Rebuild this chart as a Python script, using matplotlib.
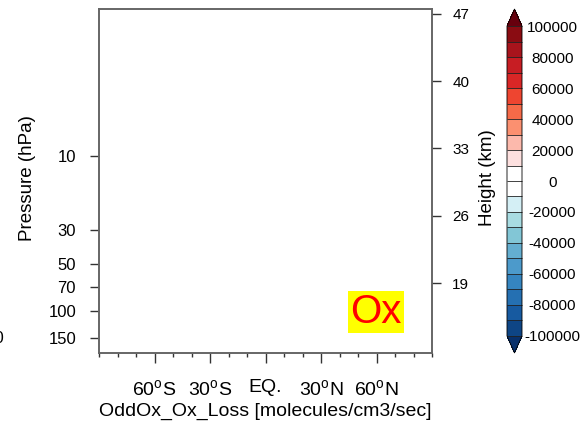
import numpy as np
import matplotlib
matplotlib.use('Agg')
import matplotlib.pyplot as plt
from matplotlib.colors import ListedColormap, BoundaryNorm
from matplotlib.cm import ScalarMappable

plt.rcParams['font.family'] = ['Liberation Sans', 'DejaVu Sans']

# axes values
lat_ticks = [-60, -30, 0, 30, 60]
lat_labels = ['60$^\\mathregular{o}$S', '30$^\\mathregular{o}$S', 'EQ.',
              '30$^\\mathregular{o}$N', '60$^\\mathregular{o}$N']
p_ticks = [10, 30, 50, 70, 100, 150]
p_range = (187, 1.13)
z_ticks = [19, 26, 33, 40, 47]
scale_height = 7.0

# colorbar
levels = [-100000, -90000, -80000, -70000, -60000, -50000, -40000, -30000,
          -20000, -10000, 0, 10000, 20000, 30000, 40000, 50000, 60000,
          70000, 80000, 90000, 100000]
cb_labels = [-100000, -80000, -60000, -40000, -20000, 0,
             20000, 40000, 60000, 80000, 100000]
colors = ['#0e4585', '#175aa0', '#2570b2', '#3585c0', '#4c9acb', '#64aed0',
          '#82c6d6', '#a8dce2', '#d4eff5', '#ffffff', '#ffffff', '#fde0df',
          '#fcb9ac', '#fb9070', '#f66a48', '#ee4530', '#d92626', '#c71d23',
          '#a8141c', '#8a0c12']
under_color = '#08306b'
over_color = '#67000d'

W, H = 580, 423
fig = plt.figure(figsize=(W / 100, H / 100), dpi=100)


def box(x0, y0, x1, y1):
    return [x0 / W, 1 - y1 / H, (x1 - x0) / W, (y1 - y0) / H]


ax = fig.add_axes(box(99, 9, 432, 353))
ax.set_xlim(-90, 90)
ax.set_yscale('log')
ax.set_ylim(*p_range)
ax.set_xticks(lat_ticks)
ax.set_xticklabels(lat_labels, fontsize=14)
ax.set_xticks(np.arange(-90, 91, 10), minor=True)
ax.set_yticks(p_ticks)
ax.set_yticklabels([str(p) for p in p_ticks], fontsize=12)
ax.yaxis.set_minor_locator(matplotlib.ticker.NullLocator())
ax.tick_params(axis='x', which='major', direction='out', length=7, width=1,
               color='#333333', pad=12)
ax.tick_params(axis='x', which='minor', direction='out', length=3, width=1,
               color='#333333')
ax.tick_params(axis='y', direction='out', length=6.5, width=1,
               color='#333333', pad=10)
for s in ax.spines.values():
    s.set_color('#666666')
    s.set_linewidth(1.2)

# height axis on the right
ax2 = ax.twinx()
ax2.set_yscale('log')
ax2.set_ylim(*p_range)
ax2.set_yticks([1000 * np.exp(-z / scale_height) for z in z_ticks])
ax2.set_yticklabels([str(z) for z in z_ticks], fontsize=11)
ax2.yaxis.set_minor_locator(matplotlib.ticker.NullLocator())
ax2.tick_params(axis='y', direction='out', length=6.5, width=1,
                color='#333333', pad=8)
for s in ax2.spines.values():
    s.set_color('#666666')
    s.set_linewidth(1.2)

fig.text(27 / W, 1 - 178 / H, 'Pressure (hPa)', rotation=90, fontsize=13.5,
         ha='center', va='center')
fig.text(488 / W, 1 - 178 / H, 'Height (km)', rotation=90, fontsize=13.5,
         ha='center', va='center')
fig.text(265.5 / W, 1 - 411 / H, 'OddOx_Ox_Loss [molecules/cm3/sec]',
         fontsize=14, ha='center', va='center')

# label "Ox"
fig.text(376 / W, 1 - 312 / H, 'Ox', color='red', fontsize=29,
         ha='center', va='center',
         bbox=dict(facecolor='yellow', edgecolor='none', pad=1.5))

# cut-off label from the neighbouring panel
fig.text(4 / W, 1 - 338 / H, '150', fontsize=12, ha='right', va='center')

# colorbar
cmap = ListedColormap(colors)
cmap.set_under(under_color)
cmap.set_over(over_color)
norm = BoundaryNorm(levels, cmap.N)
cax = fig.add_axes(box(507, 9, 522, 353))
cb = fig.colorbar(ScalarMappable(norm=norm, cmap=cmap), cax=cax,
                  extend='both', extendfrac=0.055, drawedges=True)
cb.outline.set_linewidth(0.6)
cb.dividers.set_color('#222222')
cb.dividers.set_linewidth(0.6)
cb.set_ticks(cb_labels)
cb.set_ticklabels([str(v) for v in cb_labels])
cb.minorticks_off()
cax.tick_params(which='both', length=0, pad=22, labelsize=11)
for t in cax.get_yticklabels():
    t.set_horizontalalignment('center')

plt.savefig('out.png', dpi=100)
